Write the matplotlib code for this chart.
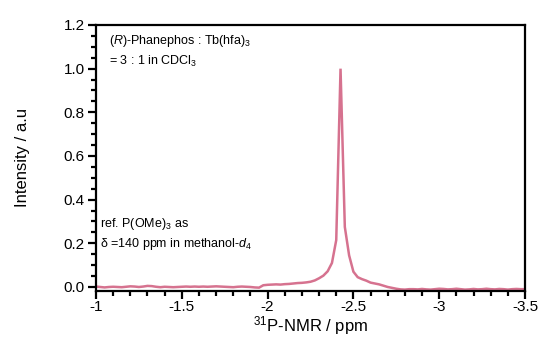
import numpy as np
import matplotlib
matplotlib.use("Agg")
import matplotlib.pyplot as plt
from matplotlib.ticker import MultipleLocator

plt.rcParams['font.family'] = ['Liberation Sans', 'DejaVu Sans']
plt.rcParams['mathtext.fontset'] = 'custom'
plt.rcParams['mathtext.rm'] = 'Liberation Sans'
plt.rcParams['mathtext.it'] = 'Liberation Sans:italic'
plt.rcParams['mathtext.bf'] = 'Liberation Sans:bold'
plt.rcParams['axes.unicode_minus'] = False

# chemical shift grid (ppm) and intensity
ppm = np.linspace(-1.0, -3.5, 101)
intensity = [
    0.002, 0.000, -0.002, 0.000, 0.001, 0.000, -0.001, 0.001, 0.003, 0.002,
    0.000, 0.002, 0.005, 0.004, 0.001, -0.001, 0.001, 0.000, -0.001, 0.000,
    0.001, 0.002, 0.001, 0.002, 0.001, 0.002, 0.001, 0.002, 0.003, 0.002,
    0.001, 0.000, -0.001, 0.001, 0.002, 0.001, 0.000, -0.002, -0.003, 0.008,
    0.010, 0.011, 0.012, 0.011, 0.013, 0.014, 0.016, 0.018, 0.019, 0.021,
    0.024, 0.030, 0.040, 0.052, 0.072, 0.110, 0.215, 1.000, 0.275, 0.145,
    0.070, 0.045, 0.036, 0.029, 0.020, 0.016, 0.012, 0.006, 0.000, -0.004,
    -0.008, -0.011, -0.012, -0.010, -0.010, -0.011, -0.009, -0.011, -0.012, -0.010,
    -0.008, -0.009, -0.011, -0.010, -0.008, -0.010, -0.012, -0.011, -0.009, -0.011,
    -0.010, -0.008, -0.010, -0.011, -0.009, -0.010, -0.012, -0.010, -0.009, -0.010,
    -0.010,
]
xtick_vals = [-1, -1.5, -2, -2.5, -3, -3.5]
xtick_labels = ['-1', '-1.5', '-2', '-2.5', '-3', '-3.5']
ytick_vals = [0.0, 0.2, 0.4, 0.6, 0.8, 1.0, 1.2]
ytick_labels = ['0.0', '0.2', '0.4', '0.6', '0.8', '1.0', '1.2']

fig = plt.figure(figsize=(5.42, 3.41), dpi=100)
ax = fig.add_axes([96/542, 1-290.7/341, (525-96)/542, (290.7-25)/341])

ax.plot(ppm, intensity, color='#d6728f', lw=1.8, solid_joinstyle='miter')

ax.set_xlim(-1.0, -3.5)
ax.set_ylim(-0.017, 1.2)
ax.xaxis.set_minor_locator(MultipleLocator(0.1))
ax.yaxis.set_minor_locator(MultipleLocator(0.05))
ax.set_xticks(xtick_vals)
ax.set_xticklabels(xtick_labels)
ax.set_yticks(ytick_vals)
ax.set_yticklabels(ytick_labels)

for s in ax.spines.values():
    s.set_linewidth(1.6)
ax.tick_params(which='major', direction='out', length=6, width=1.6, labelsize=11, pad=2)
ax.tick_params(axis='x', which='major', pad=1)
ax.tick_params(which='minor', direction='out', length=3.5, width=1.6)
ax.tick_params(top=False, right=False)

ax.set_xlabel(r'$^{31}$P-NMR / ppm', fontsize=12, labelpad=0)
ax.set_ylabel('Intensity / a.u', fontsize=12, labelpad=24)

ax.text(0.030, 0.940, r'($\it{R}$)-Phanephos : Tb(hfa)$_3$', transform=ax.transAxes,
        fontsize=9, va='center', ha='left')
ax.text(0.030, 0.861, r'= 3 : 1 in CDCl$_3$', transform=ax.transAxes,
        fontsize=9, va='center', ha='left')
ax.text(0.009, 0.250, r'ref. P(OMe)$_3$ as', transform=ax.transAxes,
        fontsize=9, va='center', ha='left')
ax.text(0.009, 0.176, r'δ =140 ppm in methanol-$\it{d}$$_4$', transform=ax.transAxes,
        fontsize=9, va='center', ha='left')

fig.savefig('out.png', dpi=100)
